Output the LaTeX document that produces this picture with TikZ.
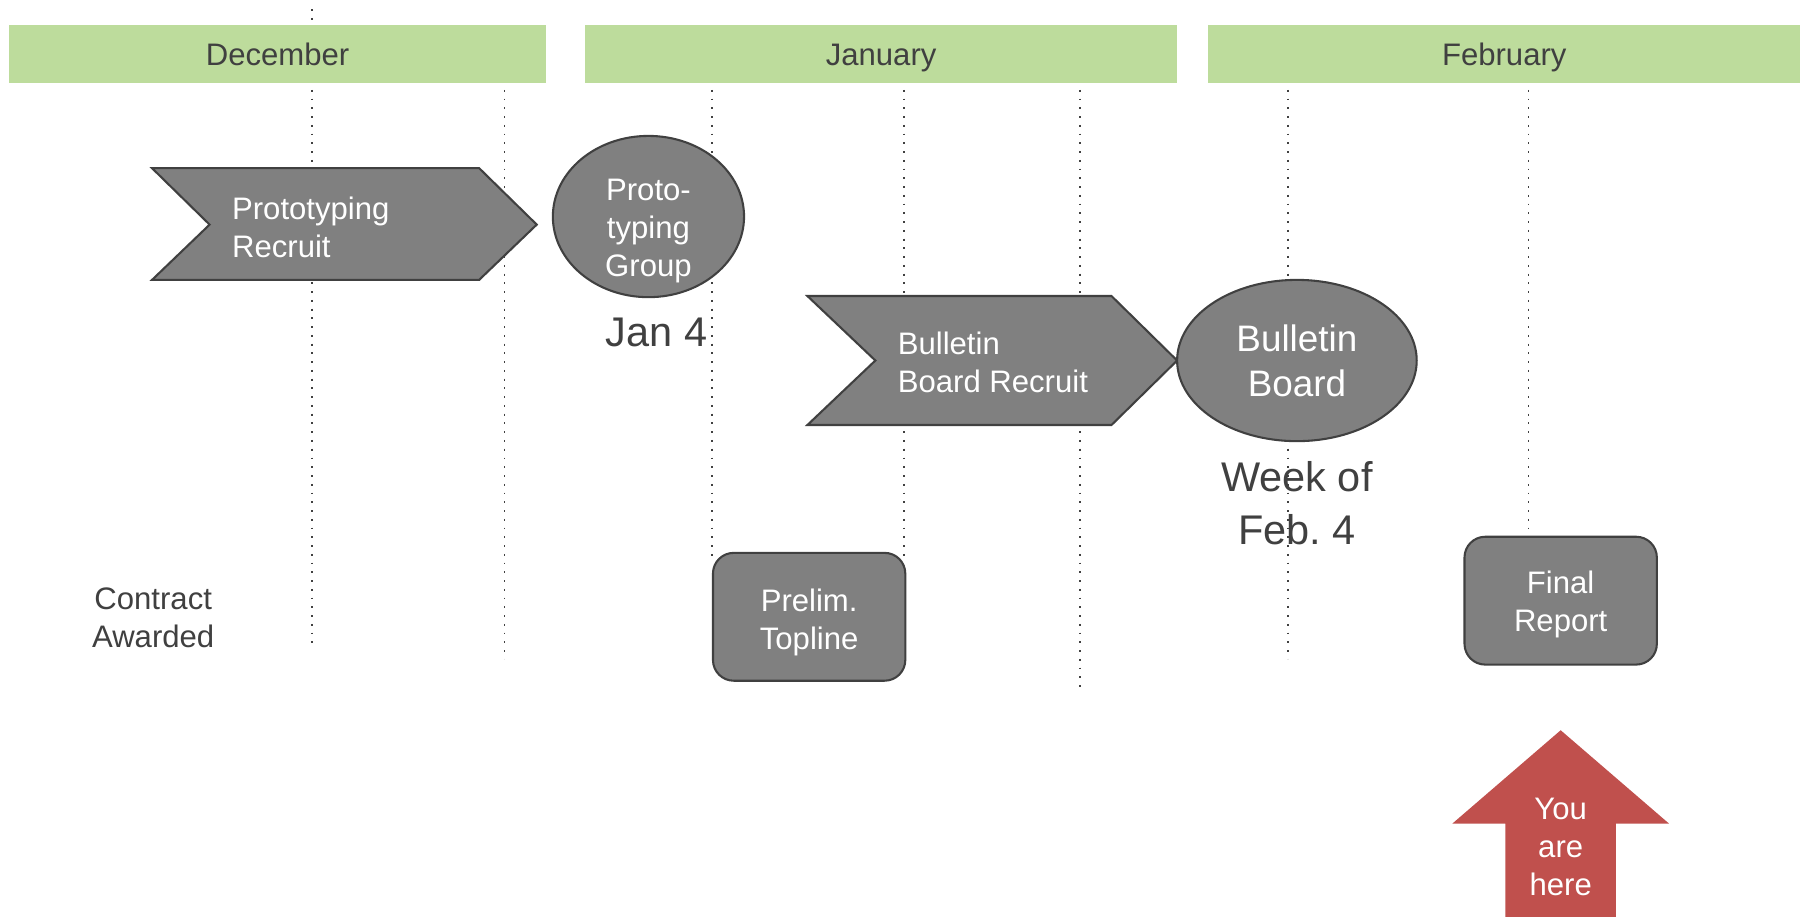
\documentclass[tikz,border=0pt]{standalone}
\usepackage{fontspec}
\setmainfont{Liberation Sans}
\usetikzlibrary{shapes.geometric}
\definecolor{mgreen}{RGB}{189,220,156}
\definecolor{tdark}{RGB}{64,64,64}
\definecolor{sgray}{RGB}{128,128,128}
\definecolor{sborder}{RGB}{64,64,64}
\definecolor{youred}{RGB}{192,80,77}
\frenchspacing
\begin{document}
\begin{tikzpicture}[x=1pt,y=-1pt,
  month/.style={fill=mgreen, text=tdark, font=\fontsize{27}{33}\selectfont, inner sep=0pt, minimum width=466pt, minimum height=50pt, text height=22pt, text depth=2pt},
  vline/.style={draw=tdark, line width=1.6pt, dash pattern=on 1.6pt off 6pt},
  shapefill/.style={fill=sgray, draw=sborder, line width=1.8pt},
  wtext/.style={text=white, font=\fontsize{27}{33}\selectfont, align=center},
  dtext/.style={text=tdark, align=center},
  boxstyle/.style={shapefill, rounded corners=18pt, minimum width=167pt, minimum height=111pt, inner sep=0pt}
]
\useasboundingbox (0,0) rectangle (1568,796);
\fill[white] (0,0) rectangle (1568,796);

% month bars
\node[month] (dec) at (241,47) {December};
\node[month, minimum width=514pt] (jan) at (765,47) {January};
\node[month, minimum width=514pt] (feb) at (1306,47) {February};

% dotted week lines
\coordinate (t0a) at (271,8);   \coordinate (t0b) at (271,20);
\coordinate (l1a) at (271,78);  \coordinate (l1b) at (271,558);
\coordinate (l2a) at (438,78);  \coordinate (l2b) at (438,572);
\coordinate (l3a) at (618,78);  \coordinate (l3b) at (618,485);
\coordinate (l4a) at (785,78);  \coordinate (l4b) at (785,485);
\coordinate (l5a) at (938,78);  \coordinate (l5b) at (938,600);
\coordinate (l6a) at (1118,78); \coordinate (l6b) at (1118,572);
\coordinate (l7a) at (1327,78); \coordinate (l7b) at (1327,462);
\draw[vline] (t0a) -- (t0b);
\draw[vline] (l1a) -- (l1b);
\draw[vline] (l2a) -- (l2b);
\draw[vline] (l3a) -- (l3b);
\draw[vline] (l4a) -- (l4b);
\draw[vline] (l5a) -- (l5b);
\draw[vline] (l6a) -- (l6b);
\draw[vline] (l7a) -- (l7b);

% Prototyping Recruit chevron
\draw[shapefill] (132,146) coordinate (pr1) -- (416,146) -- (466,195) coordinate (prtip) -- (416,243) -- (132,243) -- (182,195) -- cycle;
\node[wtext, align=left, anchor=west] (prtext) at (198,197) {Prototyping\\Recruit};

% Prototyping Group
\node[ellipse, shapefill, minimum width=166pt, minimum height=140pt, inner sep=0pt] (pg) at (563,188) {};
\node[wtext] (pgtext) at (563,201) {Proto-\\typing\\Group};
\node[dtext, font=\fontsize{36}{46}\selectfont] (jan4) at (570,289) {Jan 4};

% Bulletin Board Recruit chevron
\draw[shapefill] (701,257) coordinate (bb1) -- (965,257) -- (1022,313) coordinate (bbtip) -- (965,369) -- (701,369) -- (760,313) -- cycle;
\node[wtext, align=left, anchor=west] (bbtext) at (776,315) {Bulletin\\Board Recruit};

% Bulletin Board ellipse
\node[ellipse, shapefill, wtext, font=\fontsize{32}{39}\selectfont, minimum width=208pt, minimum height=140pt, inner sep=0pt] (bb) at (1126,313) {Bulletin\\Board};
\node[dtext, font=\fontsize{36}{46}\selectfont] (wk) at (1126,437) {Week of\\Feb. 4};

% boxes
\node[boxstyle] (prelim) at (702.5,535.5) {};
\node[wtext] (prelimtext) at (702.5,540) {Prelim.\\Topline};
\node[boxstyle] (final) at (1355,521.5) {};
\node[wtext] (finaltext) at (1355,525) {Final\\Report};

% Contract Awarded
\node[dtext, font=\fontsize{27}{33}\selectfont] (contract) at (133,536) {Contract\\Awarded};

% You are here arrow
\fill[youred] (1355,634) coordinate (ytip) -- (1449,715) -- (1403,715) -- (1403,796) -- (1307,796) -- (1307,715) -- (1261,715) -- cycle;
\node[wtext] (you) at (1355,735) {You\\are\\here};
\end{tikzpicture}
\end{document}
